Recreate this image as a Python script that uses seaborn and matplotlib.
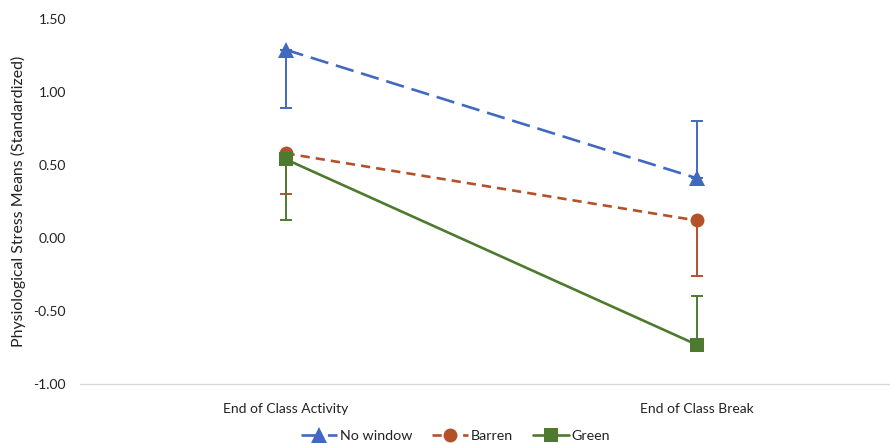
import pandas as pd
import matplotlib.pyplot as plt
import numpy as np
import seaborn as sns

phases = ['End of Class Activity', 'End of Class Break']
groups = ['No window', 'Barren', 'Green']
no_window = [1.29, 0.41]
barren = [0.58, 0.12]
green = [0.54, -0.73]
# one-sided error bars (lower, upper)
no_window_err = [[0.40, 0.00], [0.00, 0.39]]
barren_err = [[0.28, 0.38], [0.00, 0.00]]
green_err = [[0.42, 0.00], [0.00, 0.33]]

colors = {'No window': '#4169BF', 'Barren': '#B3522A', 'Green': '#4E7A2F'}
markers = {'No window': '^', 'Barren': 'o', 'Green': 's'}
styles = {'No window': (0, (7, 3)), 'Barren': (0, (3.5, 2.3)), 'Green': '-'}
values = {'No window': no_window, 'Barren': barren, 'Green': green}
errs = {'No window': no_window_err, 'Barren': barren_err, 'Green': green_err}

sns.set_style('white')
plt.rcParams['font.family'] = ['Lato', 'DejaVu Sans']

fig = plt.figure(figsize=(8.9, 4.43), dpi=100)
ax = fig.add_axes([80 / 890, 1 - 384 / 443, 822 / 890, (384 - 19) / 443])

for g in groups:
    df = pd.DataFrame({'phase': phases, 'value': values[g]})
    ax.errorbar([0, 1], values[g], yerr=np.array(errs[g]), fmt='none',
                ecolor=colors[g], elinewidth=1.4, capsize=4.5, capthick=1.4, zorder=2)
    sns.lineplot(data=df, x='phase', y='value', ax=ax, color=colors[g],
                 linestyle=styles[g], linewidth=1.9, marker=markers[g],
                 markersize=10 if g != 'No window' else 11.5, markeredgewidth=0,
                 label=g, zorder=3, sort=False)

ax.set_xlim(-0.5, 1.5)
ax.set_ylim(-1.0, 1.5)
ax.set_yticks([-1.0, -0.5, 0.0, 0.5, 1.0, 1.5])
ax.set_yticklabels([f'{v:.2f}' for v in [-1.0, -0.5, 0.0, 0.5, 1.0, 1.5]])
ax.set_xlabel('')
ax.set_ylabel('Physiological Stress Means (Standardized)', fontsize=11.4, color='#222222')
ax.yaxis.set_label_coords(-54 / 822, 0.5)
ax.tick_params(axis='y', length=0, pad=10, labelsize=10, labelcolor='#222222')
ax.tick_params(axis='x', length=0, pad=14, labelsize=10, labelcolor='#222222')
for s in ['top', 'right', 'left']:
    ax.spines[s].set_visible(False)
ax.spines['bottom'].set_color('#D9D9D9')
ax.spines['bottom'].set_linewidth(1.0)
for line in ax.lines:
    line.set_clip_on(False)

handles, labels = ax.get_legend_handles_labels()
ax.get_legend().remove()
fig.legend(handles, labels, loc='center', bbox_to_anchor=(0.512, 0.016), ncol=3,
           frameon=False, fontsize=10.3, handlelength=2.5, columnspacing=1.4,
           handletextpad=0.2, labelcolor='#222222')

fig.savefig('out.png', dpi=100)
